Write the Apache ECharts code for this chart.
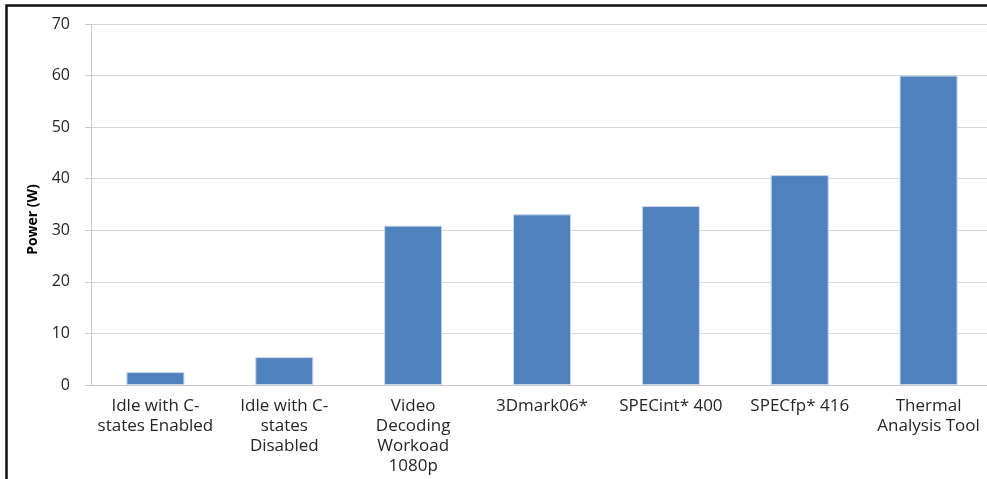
<!DOCTYPE html>
<html>
<head>
<meta charset="utf-8">
<style>
  html, body { margin: 0; padding: 0; background: #ffffff; overflow: hidden; }
  /* the plot runs past the right edge of the 987px view, so the canvas is a bit wider */
  #chart { width: 1000px; height: 479px; }
</style>
<script src="https://cdn.jsdelivr.net/npm/echarts@6/dist/echarts.min.js"></script>
</head>
<body>
<div id="chart"></div>
<script>
// Workload names (line breaks as shown under each bar)
const categories = [
  'Idle with C-\nstates Enabled',
  'Idle with C-\nstates\nDisabled',
  'Video\nDecoding\nWorkoad\n1080p',
  '3Dmark06*',
  'SPECint* 400',
  'SPECfp* 416',
  'Thermal\nAnalysis Tool'
];
// Package power per workload, in watts
const powerW = [2.5, 5.4, 30.9, 33.1, 34.7, 40.7, 60];
// Value axis range
const yMin = 0, yMax = 70, yStep = 10;

const font = '"Open Sans", "DejaVu Sans", sans-serif';
const chart = echarts.init(document.getElementById('chart'), null, { renderer: 'canvas' });

chart.setOption({
  animation: false,
  backgroundColor: '#ffffff',
  grid: { left: 91, top: 24, right: 7, bottom: 94, containLabel: false },
  graphic: [{
    type: 'rect',
    silent: true,
    shape: { x: 6.5, y: 5.5, width: 1100, height: 600 },
    style: { fill: 'none', stroke: '#111111', lineWidth: 2.5 }
  }],
  xAxis: {
    type: 'category',
    data: categories,
    axisLine: { show: true, lineStyle: { color: '#c8c8c8', width: 1 } },
    axisTick: { show: false },
    axisLabel: {
      interval: 0,
      margin: 11,
      color: '#262626',
      fontFamily: font,
      fontSize: 17,
      lineHeight: 20,
      align: 'center'
    }
  },
  yAxis: {
    type: 'value',
    min: yMin,
    max: yMax,
    interval: yStep,
    name: 'Power (W)',
    nameLocation: 'middle',
    nameGap: 51,
    nameRotate: 90,
    nameTextStyle: {
      color: '#000000',
      fontFamily: font,
      fontWeight: 'bold',
      fontSize: 14,
      padding: [0, 30, 0, 0]
    },
    axisLine: { show: true, lineStyle: { color: '#c8c8c8', width: 1 } },
    axisTick: { show: true, length: 6, lineStyle: { color: '#c8c8c8' } },
    axisLabel: {
      margin: 21,
      color: '#262626',
      fontFamily: font,
      fontSize: 16
    },
    splitLine: { show: true, lineStyle: { color: '#d9d9d9', width: 1 } }
  },
  series: [{
    type: 'bar',
    data: powerW,
    barWidth: 58,
    itemStyle: {
      color: '#4f81bd',
      borderColor: '#c6d6ec',
      borderWidth: 1
    }
  }]
});
</script>
</body>
</html>
